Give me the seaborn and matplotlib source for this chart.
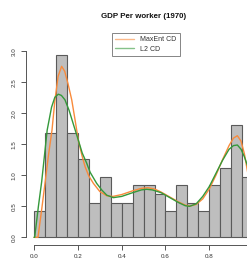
import numpy as np
import pandas as pd
import matplotlib
matplotlib.use("Agg")
import matplotlib.pyplot as plt
import seaborn as sns

# histogram (density) per 0.05 bin
bin_edges = [round(0.05 * i, 2) for i in range(21)]
densities = [0.42, 1.68, 2.94, 1.68, 1.26, 0.56, 0.98, 0.56, 0.56, 0.84,
             0.84, 0.70, 0.42, 0.84, 0.56, 0.42, 0.84, 1.12, 1.82, 0.98]

# MaxEnt CD curve
maxent_x = [0.000, 0.018, 0.035, 0.050, 0.065, 0.082, 0.095, 0.110, 0.126, 0.140,
            0.155, 0.172, 0.188, 0.202, 0.218, 0.233, 0.250, 0.271, 0.300, 0.332,
            0.360, 0.400, 0.450, 0.490, 0.520, 0.550, 0.580, 0.620, 0.660, 0.690,
            0.712, 0.740, 0.770, 0.800, 0.830, 0.860, 0.890, 0.910, 0.928, 0.945,
            0.960, 0.975]
maxent_y = [0.00, 0.00, 0.45, 0.87, 1.30, 1.73, 2.20, 2.60, 2.76, 2.68,
            2.48, 2.22, 1.88, 1.57, 1.33, 1.14, 0.99, 0.87, 0.74, 0.67,
            0.66, 0.69, 0.75, 0.79, 0.80, 0.78, 0.73, 0.65, 0.57, 0.52,
            0.505, 0.53, 0.62, 0.78, 1.00, 1.25, 1.48, 1.60, 1.64, 1.55,
            1.35, 1.05]

# L2 CD curve
l2_x = [0.000, 0.003, 0.020, 0.035, 0.060, 0.080, 0.095, 0.111, 0.125, 0.141,
        0.160, 0.180, 0.202, 0.220, 0.240, 0.256, 0.286, 0.310, 0.332, 0.362,
        0.400, 0.450, 0.490, 0.514, 0.540, 0.580, 0.620, 0.660, 0.690, 0.710,
        0.740, 0.770, 0.800, 0.830, 0.860, 0.890, 0.910, 0.928, 0.945, 0.960,
        0.975]
l2_y = [0.00, 0.00, 0.50, 0.90, 1.73, 2.10, 2.26, 2.31, 2.29, 2.22,
        2.05, 1.82, 1.57, 1.36, 1.20, 1.05, 0.87, 0.76, 0.68, 0.64,
        0.66, 0.72, 0.765, 0.775, 0.765, 0.72, 0.64, 0.56, 0.51, 0.50,
        0.54, 0.66, 0.82, 1.03, 1.24, 1.42, 1.48, 1.49, 1.42, 1.30,
        1.15]

title = "GDP Per worker (1970)"
labels = ["MaxEnt CD", "L2 CD"]
colors = ["#f98b3c", "#34993a"]
xticks = [0, 0.2, 0.4, 0.6, 0.8]
xtick_labels = ["0.0", "0.2", "0.4", "0.6", "0.8"]
yticks = [0, 0.5, 1.0, 1.5, 2.0, 2.5, 3.0]
ytick_labels = ["0.0", "0.5", "1.0", "1.5", "2.0", "2.5", "3.0"]

sns.set_theme(style="white")
plt.rcParams["font.family"] = ["Liberation Sans", "DejaVu Sans"]

W, H = 247, 279
fig = plt.figure(figsize=(W / 100, H / 100), dpi=100)
# axes box in pixels: left 25.7, right 247, top 44, bottom 245.3
ax = fig.add_axes([25.7 / W, 1 - 245.3 / H, (W - 25.7) / W, (245.3 - 44) / H])

hist_df = pd.DataFrame({
    "mid": [(a + b) / 2 for a, b in zip(bin_edges[:-1], bin_edges[1:])],
    "density": densities,
})
sns.histplot(data=hist_df, x="mid", weights="density", bins=bin_edges,
             stat="count", color="#bebebe", edgecolor="#5a5a5a",
             linewidth=0.8, alpha=1, ax=ax)
sns.lineplot(x=maxent_x, y=maxent_y, color=colors[0], lw=1.0, sort=False,
             estimator=None, ax=ax)
sns.lineplot(x=l2_x, y=l2_y, color=colors[1], lw=1.0, sort=False,
             estimator=None, ax=ax)

ax.set_xlim(-0.038, 0.972)
ax.set_ylim(-0.129, 3.12)
ax.set_xlabel("")
ax.set_ylabel("")
ax.set_xticks(xticks)
ax.set_xticklabels(xtick_labels)
ax.set_yticks(yticks)
ax.set_yticklabels(ytick_labels, rotation=90, va="center")
for s in ["top", "right"]:
    ax.spines[s].set_visible(False)
ax.spines["left"].set_bounds(0, 3)
ax.spines["bottom"].set_bounds(0, 1)
for s in ["left", "bottom"]:
    ax.spines[s].set_color("#555555")
    ax.spines[s].set_linewidth(0.7)
ax.tick_params(axis="both", length=3.4, width=0.7, color="#555555",
               labelsize=4.5, labelcolor="#333333", pad=3.0, direction="out")
ax.tick_params(axis="x", bottom=True)
ax.tick_params(axis="y", left=True)

fig.text(143.5 / W, 1 - 16.7 / H, title, ha="center", va="center",
         fontsize=5.7, fontweight="bold", color="#111111")

handles = [plt.Line2D([], [], color=c, lw=1.0, alpha=0.6) for c in colors]
leg = fig.legend(handles, labels, loc="upper left",
                 bbox_to_anchor=(112 / W, 1 - 33 / H), fontsize=5,
                 frameon=True, fancybox=False, handlelength=2.6,
                 handletextpad=0.9, borderpad=0.5, labelspacing=0.35,
                 borderaxespad=0)
leg.get_frame().set_edgecolor("#666666")
leg.get_frame().set_linewidth(0.7)
for t in leg.get_texts():
    t.set_color("#333333")

fig.savefig("out.png", dpi=100)
